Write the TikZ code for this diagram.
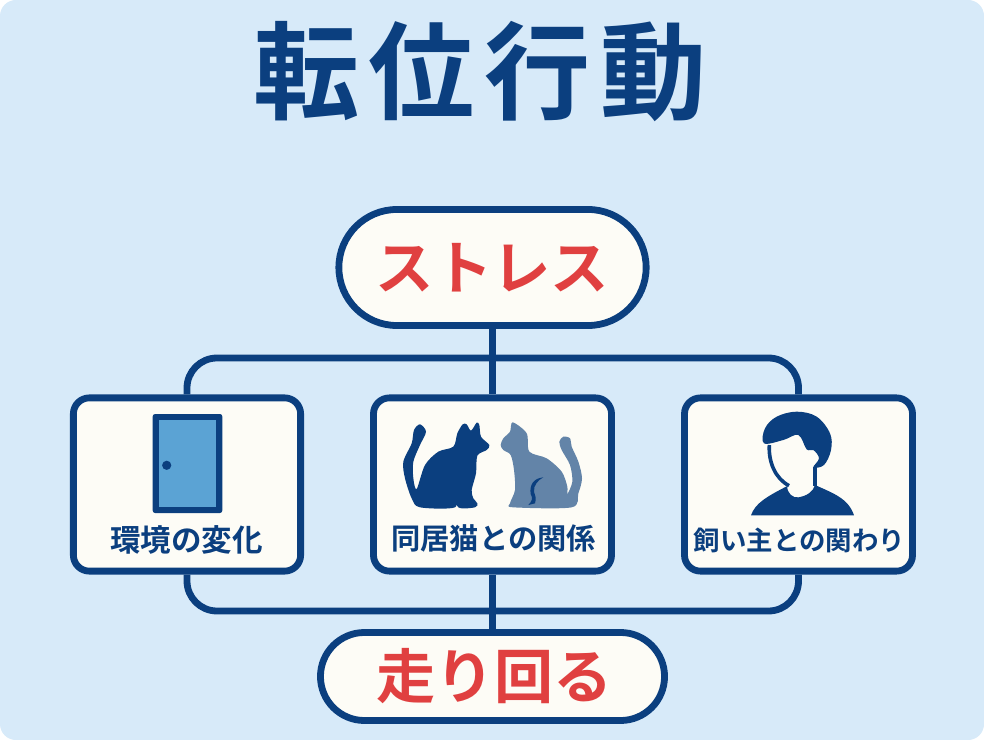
\documentclass[tikz,border=0pt]{standalone}
\usepackage{fontspec}
\usepackage{xcolor}
\usetikzlibrary{shapes.misc}
\setmainfont{Noto Sans CJK JP}[BoldFont={Noto Sans CJK JP Bold}]
\definecolor{navy}{HTML}{0B3F7F}
\definecolor{softnavy}{HTML}{6384A8}
\definecolor{alert}{HTML}{E04040}
\definecolor{sky}{HTML}{D7EAF9}
\definecolor{paper}{HTML}{FDFCF6}
\definecolor{doorblue}{HTML}{5BA3D4}
\begin{document}
\begin{tikzpicture}[x=0.025cm,y=-0.025cm,
	link/.style={navy,line width=0.17cm,rounded corners=0.75cm},
	pill/.style={draw=navy,fill=paper,line width=0.17cm,rounded rectangle,inner sep=0pt,text=alert,font=\bfseries\fontsize{41.5}{41.5}\selectfont},
	card/.style={draw=navy,fill=paper,line width=0.17cm,rounded corners=0.4cm,inner sep=0pt,minimum height=4.33cm}]
	\useasboundingbox (0,0) rectangle (984,740);
	\fill[white] (0,0) rectangle (984,740);
	\fill[sky,rounded corners=0.4cm] (0,0) rectangle (984,740);
	\node[text=navy,font=\bfseries\fontsize{75.5}{75.5}\selectfont] (title) at (480,72) {\addfontfeature{LetterSpace=9}転位行動};
	% boxes
	\node[card,minimum width=5.68cm] (envbox) at (187,484.5) {};
	\node[card,minimum width=5.95cm] (catbox) at (492.5,484.5) {};
	\node[card,minimum width=5.7cm] (ownerbox) at (798.5,484.5) {};
	\coordinate (bustop) at (493,358);
	\coordinate (busbottom) at (493,611);
	% connectors
	\draw[link] (envbox.north) |- (bustop) -| (ownerbox.north);
	\draw[link] (envbox.south) |- (busbottom) -| (ownerbox.south);
	\node[pill,minimum width=7.68cm,minimum height=2.9cm] (stressbox) at (492.5,267.5) {ストレス};
	\node[pill,minimum width=8.6cm,minimum height=2.2cm] (runbox) at (492.5,676.5) {\fontsize{42}{42}\selectfont\hspace{3pt}走り回る};
	\draw[link] (stressbox.south) -- (catbox.north);
	\draw[link] (catbox.south) -- (runbox.north);
	% labels
	\node[text=navy,font=\bfseries\fontsize{21.7}{21.7}\selectfont] (envlabel) at (186.5,540) {環境の変化};
	\node[text=navy,font=\bfseries\fontsize{20.8}{20.8}\selectfont] (catlabel) at (493.5,538) {同居猫との関係};
	\node[text=navy,font=\bfseries\fontsize{18.8}{18.8}\selectfont] (ownerlabel) at (799.5,540) {飼い主との関わり};
	% door
	\fill[navy,rounded corners=0.06cm] (152.7,414) -- (222.3,414) -- (222.3,513) -- (152.7,513) -- cycle;
	\fill[doorblue] (158.7,420) rectangle (216.3,507);
	\fill[navy] (166.7,465.3) circle (4.6);
	% cats
	\begin{scope}[shift={(370,390)},x=0.00833cm,y=-0.00833cm]
		\fill[navy] plot[smooth cycle,tension=0.5] coordinates {(150,103) (168,125) (150,165) (130,215) (130,265) (140,297) (165,225) (205,185) (250,170) (262,130) (278,103) (290,103) (303,122) (320,98) (328,105) (333,140) (358,165) (350,180) (322,197) (318,250) (305,300) (310,325) (322,340) (315,352) (265,352) (252,305) (255,352) (150,352) (125,325) (105,265) (100,215) (125,160) (132,120)};
		\fill[softnavy] plot[smooth cycle,tension=0.5] coordinates {(428,97) (470,130) (478,185) (530,205) (575,245) (592,290) (592,312) (607,275) (600,225) (575,180) (568,155) (580,140) (600,145) (605,170) (625,215) (636,265) (625,310) (605,352) (430,352) (420,340) (435,300) (432,240) (422,195) (400,180) (392,165) (400,145) (420,125)};
		\fill[navy] (520,262) .. controls (490,265) and (478,285) .. (482,312) .. controls (490,325) and (485,335) .. (475,345) -- (495,340) .. controls (500,325) and (495,315) .. (492,305) .. controls (490,285) and (505,270) .. (520,262);
	\end{scope}
	% owner
	\begin{scope}[shift={(670,390)},x=0.00833cm,y=-0.00833cm]
		\fill[navy] (243,376) .. controls (255,340) and (290,320) .. (352,288) .. controls (350,310) and (370,325) .. (385,322) .. controls (410,318) and (430,305) .. (435,285) .. controls (490,310) and (535,325) .. (552,376) -- cycle;
		\fill[navy] plot[smooth cycle,tension=0.6] coordinates {(282,160) (285,115) (320,80) (380,65) (440,80) (480,130) (483,180) (462,225) (430,232) (447,205) (430,180) (410,178) (385,135) (340,150)};
		\draw[navy,line width=0.09cm] (298,165) .. controls (295,215) and (315,265) .. (357,287);
		\draw[navy,line width=0.09cm] (435,230) -- (435,287);
	\end{scope}
\end{tikzpicture}
\end{document}
